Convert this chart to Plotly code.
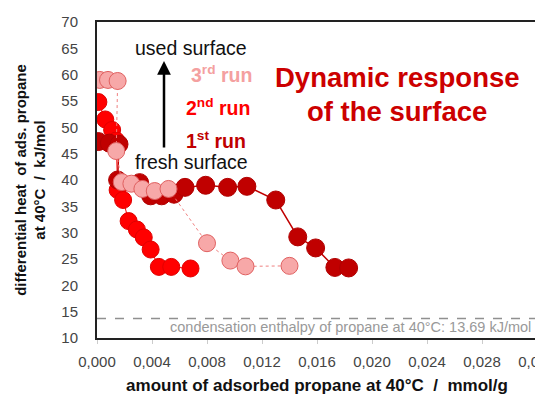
import plotly.graph_objects as go

# 1st run (fresh surface)
run1_x = [0.0001, 0.0009, 0.0016, 0.0015, 0.0031, 0.0039, 0.0047, 0.0056, 0.0064, 0.0079, 0.0095, 0.0109, 0.0130, 0.0146, 0.0159, 0.0173, 0.0183]
run1_y = [47.3, 47.0, 46.8, 40.0, 39.5, 37.0, 37.0, 37.3, 38.6, 39.0, 38.6, 38.8, 36.2, 29.2, 27.1, 23.4, 23.3]
# 2nd run
run2_x = [0.0001, 0.0006, 0.0011, 0.0014, 0.0015, 0.0019, 0.0023, 0.0029, 0.0034, 0.0039, 0.0045, 0.0054, 0.0068]
run2_y = [54.8, 51.5, 49.5, 47.5, 38.1, 36.2, 32.2, 30.6, 29.1, 26.8, 23.5, 23.5, 23.2]
# 3rd run (used surface)
run3_x = [0.0002, 0.0008, 0.0015, 0.0014, 0.0018, 0.0025, 0.0033, 0.0042, 0.0052, 0.0080, 0.0097, 0.0108, 0.0140]
run3_y = [59.0, 59.0, 58.8, 45.5, 39.6, 39.3, 38.3, 37.9, 38.3, 28.0, 24.7, 23.6, 23.7]

cond_enthalpy = 13.69
x_ticks = [0.000, 0.004, 0.008, 0.012, 0.016, 0.020, 0.024, 0.028, 0.032]
y_ticks = [10, 15, 20, 25, 30, 35, 40, 45, 50, 55, 60, 65, 70]

FONT = "Liberation Sans, Arial, sans-serif"

fig = go.Figure()
fig.add_trace(go.Scatter(
    x=run2_x, y=run2_y, mode="markers+lines",
    line=dict(color="#FF0000", width=1),
    marker=dict(size=17, color="#FF0000", line=dict(color="#E00000", width=1)),
    name="2nd run", showlegend=False))
fig.add_trace(go.Scatter(
    x=run1_x, y=run1_y, mode="markers+lines",
    line=dict(color="#C00000", width=1.5),
    marker=dict(size=18, color="#C00000", line=dict(color="#B00000", width=1)),
    name="1st run", showlegend=False))
fig.add_trace(go.Scatter(
    x=run3_x, y=run3_y, mode="markers+lines",
    line=dict(color="#F08080", width=1, dash="dot"),
    marker=dict(size=17, color="#F7A8A8", line=dict(color="#E06060", width=1)),
    name="3rd run", showlegend=False))
fig.add_trace(go.Scatter(
    x=[0, 0.032], y=[cond_enthalpy, cond_enthalpy], mode="lines",
    line=dict(color="#909090", width=1.5, dash="dash"),
    showlegend=False, hoverinfo="skip"))

def px2paper(px, py):
    return (px - 97) / 440, (338 - py) / 316

annos = []
def add_text(text, px, py, size, color, bold=False, xanchor="center"):
    x, y = px2paper(px, py)
    annos.append(dict(text=f"<b>{text}</b>" if bold else text, x=x, y=y, xref="paper", yref="paper",
                      xanchor=xanchor, yanchor="middle", showarrow=False,
                      font=dict(family=FONT, size=size, color=color)))

add_text("used surface", 191, 48, 19.5, "#111111")
add_text("3<sup>rd</sup> run", 221, 74, 19.5, "#F4A0A0", bold=True)
add_text("2<sup>nd</sup> run", 218, 107, 19.5, "#FF0000", bold=True)
add_text("1<sup>st</sup> run", 216, 140, 19.5, "#C00000", bold=True)
add_text("fresh surface", 191, 162, 19.5, "#111111")
add_text("Dynamic response", 397, 78, 27.5, "#CC0000", bold=True)
add_text("of the surface", 397, 112, 27.5, "#CC0000", bold=True)
add_text("condensation enthalpy of propane at 40°C: 13.69 kJ/mol", 533, 327, 14.5, "#999999", xanchor="right")

ax0, ay0 = px2paper(164, 61)
annos.append(dict(text="", x=ax0, y=ay0, xref="paper", yref="paper", showarrow=True,
                  ax=0, ay=88, arrowhead=2, arrowsize=1.1, arrowwidth=2.5, arrowcolor="#000000"))

# the page places the figure 8px in from the top-left corner; margins compensate
fig.update_layout(
    width=543, height=397,
    margin=dict(l=89, r=14, t=14, b=67),
    paper_bgcolor="white", plot_bgcolor="white",
    separators=", ",
    font=dict(family=FONT, size=15, color="#444444"),
    annotations=annos,
    xaxis=dict(range=[0, 0.032], tickvals=x_ticks, tickformat=".3f", automargin=False,
               showgrid=False, zeroline=False, showline=True, linecolor="#222222", linewidth=2,
               mirror=True, ticks="outside", ticklen=4, tickcolor="#CCCCCC",
               ticklabelstandoff=5, ticklabeloverflow="allow",
               title=dict(text="<b>amount of adsorbed propane at 40°C  /  mmol/g</b>",
                          font=dict(family=FONT, size=17, color="#111111"), standoff=10)),
    yaxis=dict(range=[10, 70], tickvals=y_ticks, automargin=False,
               showgrid=False, zeroline=False, showline=True, linecolor="#222222", linewidth=2,
               mirror=True, ticks="", ticklabelstandoff=14,
               title=dict(text="<b>differential heat  of ads. propane<br>at 40°C  /  kJ/mol</b>",
                          font=dict(family=FONT, size=15, color="#111111"), standoff=12)),
)

fig.write_html("out.html")
